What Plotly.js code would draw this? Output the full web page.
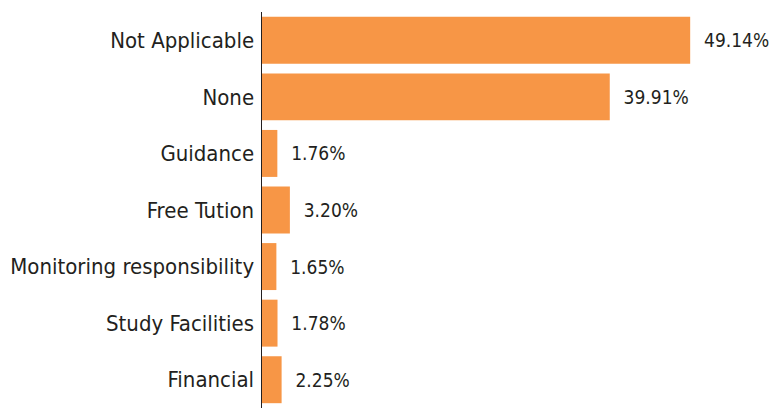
<!DOCTYPE html>
<html><head><meta charset="utf-8">
<script src="https://cdn.plot.ly/plotly-3.0.1.min.js"></script>
<style>html,body{margin:0;padding:0;background:#fff}</style>
</head><body>
<div id="chart" style="width:770px;height:408px"></div>
<script>
const categories = ["Not Applicable","None","Guidance","Free Tution","Monitoring responsibility","Study Facilities","Financial"];
const values = [49.14, 39.91, 1.76, 3.20, 1.65, 1.78, 2.25];
const labels = values.map(v => "\u00a0\u00a0" + v.toFixed(2) + "%");
const FONT = "'DejaVu Sans Condensed', 'DejaVu Sans', sans-serif";
Plotly.newPlot("chart", [{
  type: "bar", orientation: "h",
  x: values, y: categories,
  marker: {color: "#F79646"},
  text: labels, textposition: "outside", cliponaxis: false,
  textfont: {family: FONT, size: 19, color: "#231F20"},
  hoverinfo: "none"
}], {
  width: 770, height: 408,
  margin: {l: 262, r: 0, t: 12, b: 0},
  paper_bgcolor: "#fff", plot_bgcolor: "#fff",
  bargap: 0.17,
  showlegend: false,
  xaxis: {range: [0, 58.3], visible: false, fixedrange: true},
  yaxis: {autorange: "reversed", showline: true, linecolor: "#231F20", linewidth: 1.5,
          showgrid: false, zeroline: false, ticks: "", ticklabelstandoff: 2,
          tickfont: {family: FONT, size: 22, color: "#231F20"}}
}, {displayModeBar: false, staticPlot: true});
</script>
</body></html>
